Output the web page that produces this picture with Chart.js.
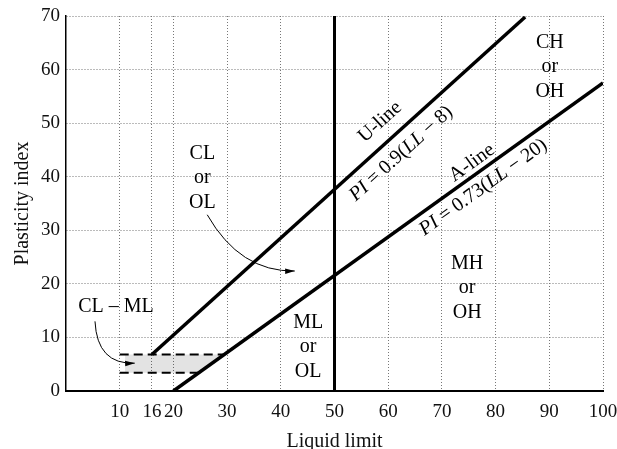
<!DOCTYPE html>
<html>
<head>
<meta charset="utf-8">
<script src="https://cdn.jsdelivr.net/npm/chart.js@4.4.1/dist/chart.umd.min.js"></script>
<style>
  body { margin: 0; background: #fff; }
</style>
</head>
<body>
<canvas id="plasticidade" width="617" height="449"></canvas>
<script>
// carta de plasticidade
const xTicks = [10, 16, 20, 30, 40, 50, 60, 70, 80, 90, 100];
const yTicks = [0, 10, 20, 30, 40, 50, 60, 70];

const uLineLL = [16, 85.5];
const uLinePI = [6.8, 69.8];
const aLineLL = [20, 100];
const aLinePI = [0, 57.5];
const divisaLL = [50, 50];
const divisaPI = [0, 70];
const clmlTopoLL = [10, 29.3];
const clmlTopoPI = [6.8, 6.8];
const clmlBaseLL = [10, 24.7];
const clmlBasePI = [3.4, 3.4];
const clmlZonaLL = [11, 11, 29.3, 24.7];
const clmlZonaPI = [3.4, 6.8, 6.8, 3.4];

const zonas = ['CL\nor\nOL', 'ML\nor\nOL', 'MH\nor\nOH', 'CH\nor\nOH', 'CL \u2013 ML'];

const pts = (xs, ys) => xs.map((x, i) => ({ x: x, y: ys[i] }));
const SERIF = '"Liberation Serif", "DejaVu Serif", serif';

Chart.defaults.font.family = SERIF;
Chart.defaults.color = '#111';

function linha(dados, largura, tracejado) {
    return {
        data: dados,
        borderColor: '#000',
        borderWidth: largura,
        borderDash: tracejado || [],
        pointRadius: 0,
        showLine: true,
        fill: false,
        tension: 0
    };
}

function seta(ctx, a, c, b) {
    ctx.beginPath();
    ctx.moveTo(a[0], a[1]);
    ctx.quadraticCurveTo(c[0], c[1], b[0], b[1]);
    ctx.stroke();
    const ang = Math.atan2(b[1] - c[1], b[0] - c[0]);
    ctx.beginPath();
    ctx.moveTo(b[0], b[1]);
    ctx.lineTo(b[0] - 10 * Math.cos(ang - 0.28), b[1] - 10 * Math.sin(ang - 0.28));
    ctx.lineTo(b[0] - 10 * Math.cos(ang + 0.28), b[1] - 10 * Math.sin(ang + 0.28));
    ctx.closePath();
    ctx.fill();
}

function textoRico(ctx, partes, cx, cy, ang) {
    ctx.save();
    ctx.translate(cx, cy);
    ctx.rotate(ang);
    ctx.textAlign = 'left';
    ctx.textBaseline = 'middle';
    let total = 0;
    partes.forEach(p => { ctx.font = p[1]; total += ctx.measureText(p[0]).width; });
    let x = -total / 2;
    partes.forEach(p => {
        ctx.font = p[1];
        ctx.fillText(p[0], x, 0);
        x += ctx.measureText(p[0]).width;
    });
    ctx.restore();
}

const anotacoes = {
    id: 'anotacoes',
    afterDatasetsDraw(chart) {
        const ctx = chart.ctx;
        const sx = chart.scales.x, sy = chart.scales.y;
        const px = (ll, pi) => [sx.getPixelForValue(ll), sy.getPixelForValue(pi)];
        const reg = '20px ' + SERIF, ita = 'italic 20px ' + SERIF;

        ctx.save();
        ctx.fillStyle = '#000';
        ctx.strokeStyle = '#000';

        // nomes das zonas
        const ancora = [[25.4, 39.8], [45.1, 8.2], [74.7, 19.2], [90.1, 60.5], [9.3, 15.7]];
        ctx.font = reg;
        ctx.textAlign = 'center';
        ctx.textBaseline = 'middle';
        zonas.forEach((z, i) => {
            const l = z.split('\n');
            const p = px(ancora[i][0], ancora[i][1]);
            l.forEach((t, k) => ctx.fillText(t, p[0], p[1] + (k - (l.length - 1) / 2) * 24.5));
        });

        // setas
        ctx.lineWidth = 1;
        seta(ctx, px(26.3, 32.9), px(32.4, 22.2), px(42.6, 22.4));
        seta(ctx, px(5.4, 13.0), px(5.8, 4.9), px(12.8, 5.2));

        // rotulos das linhas U e A
        const angU = Math.atan2(sy.getPixelForValue(uLinePI[1]) - sy.getPixelForValue(uLinePI[0]),
                                sx.getPixelForValue(uLineLL[1]) - sx.getPixelForValue(uLineLL[0]));
        const angA = Math.atan2(sy.getPixelForValue(aLinePI[1]) - sy.getPixelForValue(aLinePI[0]),
                                sx.getPixelForValue(aLineLL[1]) - sx.getPixelForValue(aLineLL[0]));
        let p = px(58.5, 50.2);
        textoRico(ctx, [['U-line', reg]], p[0], p[1], angU);
        p = px(62.4, 44.3);
        textoRico(ctx, [['PI', ita], [' = 0.9(', reg], ['LL', ita], [' \u2212 8)', reg]], p[0], p[1], angU);
        p = px(75.6, 42.6);
        textoRico(ctx, [['A-line', reg]], p[0], p[1], angA);
        p = px(77.7, 38.0);
        textoRico(ctx, [['PI', ita], [' = 0.73(', reg], ['LL', ita], [' \u2212 20)', reg]], p[0], p[1], angA);
        ctx.restore();
    }
};

const ctx = document.getElementById('plasticidade').getContext('2d');
const carta = new Chart(ctx, {
    type: 'scatter',
    data: {
        datasets: [
            Object.assign(linha(pts(clmlZonaLL, clmlZonaPI), 0), { fill: 'shape', backgroundColor: 'rgba(0,0,0,0.11)' }),
            linha(pts(clmlTopoLL, clmlTopoPI), 2, [9, 5]),
            linha(pts(clmlBaseLL, clmlBasePI), 2, [9, 5]),
            linha(pts(uLineLL, uLinePI), 3.5),
            linha(pts(aLineLL, aLinePI), 3.5),
            linha(pts(divisaLL, divisaPI), 3)
        ]
    },
    options: {
        responsive: false,
        animation: false,
        layout: { padding: { top: 16, right: 14, left: 0, bottom: 0 } },
        plugins: {
            legend: { display: false },
            tooltip: { enabled: false }
        },
        scales: {
            x: {
                type: 'linear',
                min: 0,
                max: 100,
                afterBuildTicks: s => { s.ticks = xTicks.map(v => ({ value: v })); },
                afterFit: s => { s.height = 58; s.paddingLeft = 0; s.paddingRight = 0; },
                grid: { color: '#777', lineWidth: 1, drawTicks: false },
                border: { color: '#000', width: 2, dash: [1, 2] },
                ticks: { autoSkip: false, maxRotation: 0, padding: 10, font: { size: 19 }, color: '#111' },
                title: { display: true, text: 'Liquid limit', font: { size: 20, lineHeight: 1 }, padding: { top: 0, bottom: -3 }, color: '#111' }
            },
            y: {
                type: 'linear',
                min: 0,
                max: 70,
                afterBuildTicks: s => { s.ticks = yTicks.map(v => ({ value: v })); },
                afterFit: s => { s.width = 66; s.paddingTop = 0; s.paddingBottom = 0; },
                grid: { color: '#777', lineWidth: 1, drawTicks: false },
                border: { color: '#000', width: 1.5, dash: [1, 2] },
                ticks: { padding: 6, font: { size: 19 }, color: '#111' },
                title: { display: true, text: 'Plasticity index', font: { size: 20, lineHeight: 1 }, padding: { top: 13, bottom: 0 }, color: '#111' }
            }
        }
    },
    plugins: [anotacoes]
});
</script>
</body>
</html>
